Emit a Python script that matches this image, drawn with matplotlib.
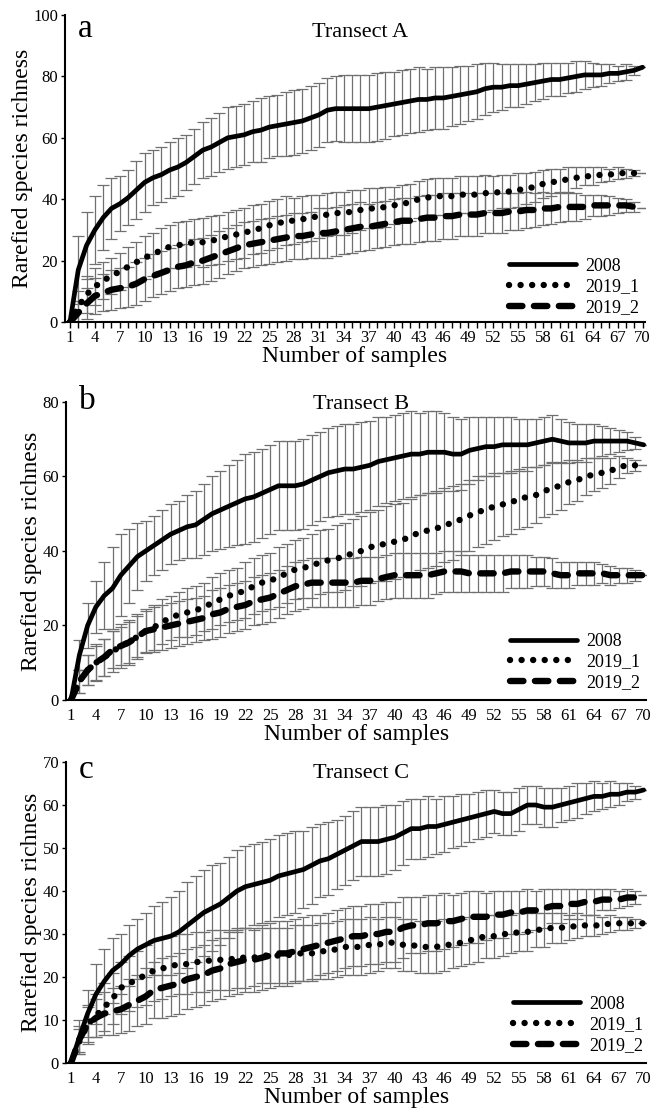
import numpy as np
import matplotlib
matplotlib.use('Agg')
import matplotlib.pyplot as plt
from matplotlib.ticker import MultipleLocator

plt.rcParams['font.family'] = ['Liberation Serif', 'DejaVu Serif']

# Number of samples
samples = np.arange(1, 71)
tick_labels = [str(v) for v in range(1, 71, 3)]
series_names = ['2008', '2019_1', '2019_2']

# Transect A: rarefied richness and SD
a_2008 = [0, 17, 25, 30, 34, 37, 38.5, 40.5, 43, 45.5,
          47, 48, 49.5, 50.5, 52, 54, 56, 57, 58.5, 60,
          60.5, 61, 62, 62.5, 63.5, 64, 64.5, 65, 65.5, 66.5,
          67.5, 69, 69.5, 69.5, 69.5, 69.5, 69.5, 70, 70.5, 71,
          71.5, 72, 72.5, 72.5, 73, 73, 73.5, 74, 74.5, 75,
          76, 76.5, 76.5, 77, 77, 77.5, 78, 78.5, 79, 79,
          79.5, 80, 80.5, 80.5, 80.5, 81, 81, 81.5, 82, 83]
a_2008_sd = [0, 11, 11, 11, 10.5, 10, 9, 9, 9.5, 9.5,
             9, 9, 9, 9.5, 9, 9, 9, 9.5, 9.5, 10,
             10, 10, 10, 10.5, 10, 10, 10.5, 10.5, 10.5, 10.5,
             10.5, 10.5, 10.5, 11, 11, 11, 11, 11, 11, 10.5,
             10.5, 10.5, 10.5, 10, 10, 10, 9.5, 9.5, 9, 9,
             8.5, 8, 7.5, 7, 7, 6.5, 6, 6, 5.5, 5.5,
             5, 5, 4.5, 4, 3.5, 3, 2.5, 2.5, 1.5, 0]
a_2019_1 = [0, 5, 9, 11.5, 13.5, 15, 16.5, 18, 19.5, 21,
            22, 23.5, 24.5, 25, 25.5, 26, 26, 26.5, 27, 28,
            28.5, 29, 30, 30.5, 31.5, 32, 33, 33, 33.5, 34,
            34.5, 35, 35.5, 35.5, 36, 36.5, 37, 37, 37.5, 38,
            38.5, 39, 40, 40.5, 41, 41, 41, 41.5, 41.5, 41.5,
            42, 42, 42.5, 42.5, 43, 43.5, 44, 45, 45.5, 46,
            46.5, 47, 47.5, 47.5, 48, 48, 48.5, 48.5, 48.5, 48.5]
a_2019_1_sd = [0, 5, 6, 6, 6, 6, 6, 6.5, 6.5, 7,
               7, 7, 7, 7.5, 7.5, 7.5, 8, 8, 8, 8,
               8, 8, 8, 8, 8, 8, 8, 7.5, 7.5, 7.5,
               7, 7, 7, 7, 7, 6.5, 6.5, 6.5, 6.5, 6,
               6, 6, 6, 6, 6, 6, 6, 6, 6, 6,
               6, 5.5, 5.5, 5.5, 5.5, 5, 5, 4.5, 4.5, 4,
               4, 3.5, 3, 3, 2.5, 2, 2, 1.5, 1, 0]
a_2019_2 = [0, 3, 6, 8.5, 9.5, 10.5, 11, 11.5, 12.5, 14,
            15, 16, 17, 18, 18.5, 19.5, 20, 21, 22, 23,
            24, 25, 25.5, 26, 26.5, 27, 27.5, 28, 28, 28.5,
            29, 29, 29.5, 30, 30.5, 31, 31, 31.5, 32, 32.5,
            33, 33, 33.5, 34, 34, 34.5, 34.5, 35, 35, 35,
            35.5, 35.5, 35.5, 36, 36, 36.5, 36.5, 37, 37, 37.5,
            37.5, 37.5, 37.5, 38, 38, 38, 38, 38, 37.5, 37]
a_2019_2_sd = [0, 4, 5, 6, 6, 6.5, 6.5, 6.5, 7, 7,
               7, 7, 7, 7, 7, 7.5, 7.5, 7.5, 7.5, 7.5,
               7.5, 7.5, 7.5, 7.5, 7.5, 7.5, 7.5, 7.5, 7.5, 7.5,
               8, 8, 8, 8, 8, 8, 7.5, 7.5, 7.5, 7.5,
               7.5, 7.5, 7.5, 7.5, 7.5, 7.5, 7.5, 7, 7, 7,
               6.5, 6.5, 6.5, 6, 6, 6, 5.5, 5.5, 5, 5,
               4.5, 4.5, 4, 3.5, 3.5, 3, 2.5, 2, 1.5, 0]

# Transect B
b_2008 = [0, 12, 20, 25, 28, 30, 33.5, 36, 38.5, 40,
          41.5, 43, 44.5, 45.5, 46.5, 47, 48.5, 50, 51, 52,
          53, 54, 54.5, 55.5, 56.5, 57.5, 57.5, 57.5, 58, 59,
          60, 61, 61.5, 62, 62, 62.5, 63, 64, 64.5, 65,
          65.5, 66, 66, 66.5, 66.5, 66.5, 66, 66, 67, 67.5,
          68, 68, 68.5, 68.5, 68.5, 68.5, 69, 69.5, 70, 69.5,
          69, 69, 69, 69.5, 69.5, 69.5, 69.5, 69.5, 69, 68.5]
b_2008_sd = [0, 4, 6, 7, 9, 11, 11, 10, 9, 8,
             8, 8, 8, 8, 8.5, 9, 9.5, 10, 10.5, 11,
             11.5, 12, 12, 12, 12, 12, 12, 12, 12, 12,
             12, 12, 12, 12, 12, 12, 12, 12, 11.5, 11.5,
             11.5, 11.5, 11, 11, 11, 10.5, 10, 9.5, 9, 8.5,
             8, 8, 7.5, 7.5, 7, 7, 6.5, 6.5, 6.5, 6,
             5.5, 5, 5, 4.5, 4, 3.5, 3, 2.5, 1.5, 0]
b_2019_1 = [0, 5, 8, 10, 11.5, 13, 14.5, 15.5, 17, 18.5,
            19.5, 21, 22, 23, 23.5, 24, 25, 26, 27, 28,
            28.5, 29.5, 30.5, 31.5, 32, 33, 34, 35, 35.5, 36,
            37, 37.5, 38, 38.5, 39.5, 40, 41, 41.5, 42, 42.5,
            43, 44, 45, 45.5, 46, 47, 47.5, 48.5, 49.5, 50.5,
            51, 52, 52.5, 53, 54, 54.5, 55, 56, 57, 57.5,
            58.5, 59, 60, 60.5, 61, 61.5, 62.5, 63, 63, 63]
b_2019_1_sd = [0, 3, 4, 5, 5, 5.5, 6, 6, 6, 6,
               6, 6, 6, 6, 6.5, 6.5, 6.5, 7, 7, 7,
               7, 7.5, 7.5, 7.5, 7.5, 8, 8, 8, 8, 8.5,
               8.5, 8.5, 9, 9, 9, 9.5, 9.5, 9.5, 10, 10,
               10, 10, 10, 10, 10, 10, 10, 9.5, 9.5, 9.5,
               9, 9, 8.5, 8.5, 8, 8, 7.5, 7, 7, 6.5,
               6, 5.5, 5, 4.5, 4, 3.5, 3, 2, 1.5, 0]
b_2019_2 = [0, 5, 8, 10, 11.5, 13.5, 14.5, 15.5, 17, 18.5,
            19, 19.5, 20, 20.5, 21, 21.5, 22, 23, 23.5, 24.5,
            25, 25.5, 26.5, 27, 27.5, 28.5, 29.5, 30.5, 31, 31.5,
            31.5, 31.5, 31.5, 31.5, 31.5, 32, 32, 32.5, 33, 33.5,
            33.5, 33.5, 33.5, 33.5, 34, 34.5, 34.5, 34.5, 34, 34,
            34, 34, 34, 34.5, 34.5, 34.5, 34.5, 34.5, 34, 33.5,
            33.5, 34, 34, 34, 34, 33.5, 33.5, 33.5, 33.5, 33.5]
b_2019_2_sd = [0, 3, 4, 4.5, 5, 5, 5, 5.5, 5.5, 5.5,
               6, 6, 6, 6, 6, 6, 6, 6.5, 6.5, 6.5,
               6.5, 6.5, 6.5, 6.5, 6.5, 6.5, 6.5, 6.5, 6.5, 6.5,
               6.5, 6.5, 6.5, 6.5, 6.5, 6.5, 6.5, 6, 6, 6,
               6, 6, 6, 6, 5.5, 5.5, 5.5, 5.5, 5, 5,
               5, 5, 5, 4.5, 4.5, 4.5, 4, 4, 4, 3.5,
               3.5, 3, 3, 3, 2.5, 2.5, 2, 2, 1.5, 0]

# Transect C
c_2008 = [0, 6, 11.5, 16, 19, 21.5, 23, 25, 26.5, 27.5,
          28.5, 29, 29.5, 30.5, 32, 33.5, 35, 36, 37, 38.5,
          40, 41, 41.5, 42, 42.5, 43.5, 44, 44.5, 45, 46,
          47, 47.5, 48.5, 49.5, 50.5, 51.5, 51.5, 51.5, 52, 52.5,
          53.5, 54.5, 54.5, 55, 55, 55.5, 56, 56.5, 57, 57.5,
          58, 58.5, 58, 58, 59, 60, 60, 59.5, 59.5, 60,
          60.5, 61, 61.5, 62, 62, 62.5, 62.5, 63, 63, 63.5]
c_2008_sd = [0, 4, 5.5, 7, 7.5, 7.5, 7, 7, 7, 7.5,
             8, 8.5, 9, 9.5, 10, 10, 10, 10, 9.5, 9.5,
             9.5, 9.5, 9.5, 9.5, 9.5, 9.5, 9.5, 9.5, 9, 9,
             8.5, 8.5, 8, 8, 8, 8, 8, 8, 8, 7.5,
             7.5, 7, 7, 7, 6.5, 6.5, 6, 6, 5.5, 5.5,
             5.5, 5, 5, 5, 5, 4.5, 4.5, 4.5, 4.5, 4,
             4, 4, 3.5, 3.5, 3, 3, 2.5, 2, 1.5, 0]
c_2019_1 = [0, 5, 9, 11, 13, 15, 17.5, 18.5, 19.5, 20.5,
            21.5, 22, 22.5, 23, 23, 23.5, 23.5, 24, 24, 24,
            24.5, 24.5, 24.5, 25, 25, 25, 25, 25.5, 25.5, 25.5,
            26, 26, 26.5, 27, 27, 27, 27.5, 27.5, 28, 28,
            27.5, 27.5, 27, 27, 27, 27.5, 27.5, 28, 28.5, 29,
            29.5, 29.5, 30, 30, 30.5, 30.5, 31, 31, 31.5, 31.5,
            31.5, 32, 32, 32, 32, 32.5, 32.5, 32.5, 32.5, 32.5]
c_2019_1_sd = [0, 3, 4.5, 5, 5.5, 6, 6, 6.5, 6.5, 7,
               7, 7, 7, 7, 7, 7, 7, 7, 7, 7,
               7, 7, 6.5, 6.5, 6.5, 6.5, 6.5, 6.5, 6.5, 6.5,
               6.5, 6.5, 6.5, 6.5, 6.5, 6.5, 6.5, 6, 6, 6,
               6, 6, 6, 6, 6, 6, 5.5, 5.5, 5.5, 5.5,
               5, 5, 5, 4.5, 4.5, 4.5, 4, 4, 3.5, 3.5,
               3, 3, 2.5, 2.5, 2, 2, 1.5, 1.5, 1, 0]
c_2019_2 = [0, 5.5, 9, 10.5, 11.5, 12, 12.5, 13.5, 14.5, 15.5,
            17, 17.5, 18, 18.5, 19.5, 20, 20.5, 21.5, 22, 23,
            23.5, 24, 24, 24.5, 25, 25.5, 25.5, 26, 26.5, 27,
            27.5, 28, 28.5, 29, 29.5, 29.5, 30, 30, 30.5, 30.5,
            31.5, 32, 32, 32.5, 32.5, 33, 33, 33.5, 34, 34,
            34, 34.5, 34.5, 35, 35, 35.5, 35.5, 36, 36.5, 36.5,
            37, 37, 37.5, 37.5, 38, 38, 38, 38.5, 38.5, 39]
c_2019_2_sd = [0, 3, 4, 4.5, 5, 5.5, 5.5, 6, 6, 6.5,
               6.5, 7, 7, 7, 7, 7, 7, 7, 7, 7.5,
               7.5, 7.5, 7.5, 7.5, 7.5, 7.5, 7.5, 7.5, 7.5, 7.5,
               7, 7, 7, 7, 7, 7, 7, 7, 7, 7,
               7, 6.5, 6.5, 6.5, 6.5, 6.5, 6, 6, 6, 6,
               5.5, 5.5, 5.5, 5, 5, 5, 4.5, 4.5, 4, 4,
               3.5, 3.5, 3, 3, 2.5, 2.5, 2, 2, 1.5, 0]

# line styles for the three surveys (round dots, fat rounded dashes)
styles = [dict(lw=3.4, linestyle='-', solid_capstyle='round'),
          dict(lw=4.6, linestyle=(0, (0.01, 1.8)), dash_capstyle='round'),
          dict(lw=4.6, linestyle=(0, (2.1, 1.8)), dash_capstyle='round')]

panels = [
    dict(letter='a', title='Transect A', ymax=100, ystep=20,
         means=[a_2008, a_2019_1, a_2019_2], sds=[a_2008_sd, a_2019_1_sd, a_2019_2_sd],
         rect=[0.0994, 0.7112, 0.887, 0.2753], title_y=0.928, xticks=True,
         leg=(0.99, 0.02)),
    dict(letter='b', title='Transect B', ymax=80, ystep=20,
         means=[b_2008, b_2019_1, b_2019_2], sds=[b_2008_sd, b_2019_1_sd, b_2019_2_sd],
         rect=[0.101, 0.3722, 0.887, 0.2673], title_y=0.975, xticks=False,
         leg=(0.99, 0.03)),
    dict(letter='c', title='Transect C', ymax=70, ystep=10,
         means=[c_2008, c_2019_1, c_2019_2], sds=[c_2008_sd, c_2019_1_sd, c_2019_2_sd],
         rect=[0.101, 0.0466, 0.887, 0.270], title_y=0.947, xticks=False,
         leg=(0.995, 0.03)),
]

fig = plt.figure(figsize=(6.54, 11.15), dpi=100)

for p in panels:
    ax = fig.add_axes(p['rect'])
    # error bars first, then the mean curves on top
    for m, s in zip(p['means'], p['sds']):
        ax.errorbar(samples, m, yerr=s, fmt='none', ecolor='#707070',
                    elinewidth=0.9, capsize=4.5, capthick=0.9, zorder=1)
    for m, name, st in zip(p['means'], series_names, styles):
        ax.plot(samples, m, color='black', label=name, zorder=3, **st)

    ax.set_xlim(0.4, 70.3)
    ax.set_ylim(0, p['ymax'])
    ax.set_xticks(range(1, 71, 3))
    ax.set_xticklabels(tick_labels)
    ax.set_yticks(np.arange(0, p['ymax'] + 1, p['ystep']))
    if p['xticks']:
        ax.xaxis.set_minor_locator(MultipleLocator(1))
        ax.tick_params(axis='x', which='both', length=4, width=1, direction='out', pad=2)
    else:
        ax.tick_params(axis='x', which='both', length=0, pad=6)
    ax.tick_params(axis='y', length=3, width=1, pad=2)
    ax.tick_params(labelsize=12)

    for side in ['top', 'right']:
        ax.spines[side].set_visible(False)
    for side in ['left', 'bottom']:
        ax.spines[side].set_linewidth(1.5)

    ax.set_xlabel('Number of samples', fontsize=17, labelpad=0)
    ax.set_ylabel('Rarefied species richness', fontsize=17, labelpad=0)

    ax.text(0.022, p['title_y'], p['letter'], transform=ax.transAxes,
            fontsize=24, va='baseline', ha='left')
    ax.text(0.508, p['title_y'], p['title'], transform=ax.transAxes,
            fontsize=16, va='baseline', ha='center')

    ax.legend(loc='lower right', bbox_to_anchor=p['leg'], frameon=False,
              fontsize=13, handlelength=3.7, handletextpad=0.5,
              labelspacing=0.2, borderpad=0, borderaxespad=0)

fig.savefig('out.png', dpi=100)
